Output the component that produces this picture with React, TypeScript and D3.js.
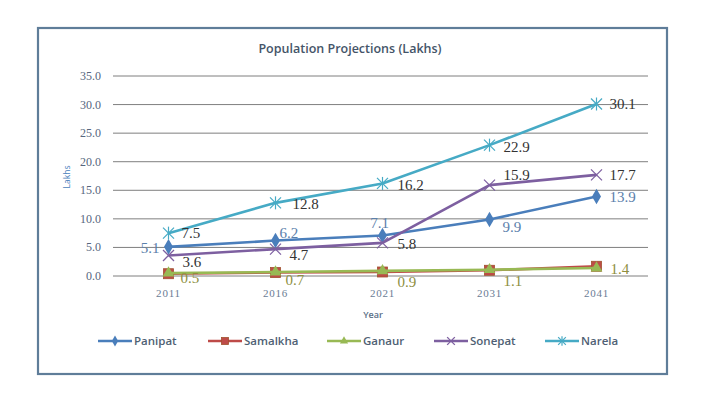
import React from "react";
import * as d3 from "d3";

const years = ["2011", "2016", "2021", "2031", "2041"];
const panipat = [5.1, 6.2, 7.1, 9.9, 13.9];
const samalkha = [0.4, 0.6, 0.7, 1.0, 1.7];
const ganaur = [0.5, 0.7, 0.9, 1.1, 1.4];
const sonepat = [3.6, 4.7, 5.8, 15.9, 17.7];
const narela = [7.5, 12.8, 16.2, 22.9, 30.1];
const yTicks = [0, 5, 10, 15, 20, 25, 30, 35];

type Lbl = { dx: number; dy: number; anchor: string };
const R: Lbl = { dx: 13, dy: 0, anchor: "start" };

const series = [
  { name: "Panipat", values: panipat, color: "#4a7ebb", marker: "diamond", labelColor: "#5b80ab",
    labels: [{ dx: -9, dy: 1, anchor: "end" }, { dx: 4, dy: -8, anchor: "start" }, { dx: -3, dy: -12, anchor: "middle" }, { dx: 13, dy: 8, anchor: "start" }, R] as Lbl[] },
  { name: "Samalkha", values: samalkha, color: "#be4b48", marker: "square", labelColor: "none", labels: null },
  { name: "Ganaur", values: ganaur, color: "#98b954", marker: "triangle", labelColor: "#8e8f3f",
    labels: [{ dx: 12, dy: 5, anchor: "start" }, { dx: 10, dy: 8, anchor: "start" }, { dx: 15, dy: 11, anchor: "start" }, { dx: 14, dy: 11, anchor: "start" }, { dx: 14, dy: 1, anchor: "start" }] as Lbl[] },
  { name: "Sonepat", values: sonepat, color: "#7d5fa0", marker: "x", labelColor: "#333333",
    labels: [{ dx: 14, dy: 7, anchor: "start" }, { dx: 14, dy: 6, anchor: "start" }, { dx: 15, dy: 1, anchor: "start" }, { dx: 14, dy: -10, anchor: "start" }, R] as Lbl[] },
  { name: "Narela", values: narela, color: "#46aac5", marker: "star", labelColor: "#333333",
    labels: [R, { dx: 17, dy: 1, anchor: "start" }, { dx: 15, dy: 2, anchor: "start" }, { dx: 14, dy: 2, anchor: "start" }, R] as Lbl[] },
];

const plot = { left: 113, right: 648, top: 76, bottom: 276 };

function Marker({ type, x, y, color, k = 1 }: { type: string; x: number; y: number; color: string; k?: number }) {
  if (type === "diamond") {
    return <path d={d3.symbol(d3.symbolDiamond, 70 * k * k)()!} transform={`translate(${x},${y})`} fill={color} />;
  }
  if (type === "square") {
    const h = 5 * k;
    return <rect x={x - h} y={y - h} width={2 * h} height={2 * h} fill={color} stroke="#a0522d" strokeWidth={0.8} />;
  }
  if (type === "triangle") {
    return <path d={d3.symbol(d3.symbolTriangle, 60 * k * k)()!} transform={`translate(${x},${y})`} fill={color} />;
  }
  const s = 5.5 * k;
  if (type === "x") {
    return (
      <g stroke={color} strokeWidth={1.3}>
        <line x1={x - s} y1={y - s} x2={x + s} y2={y + s} />
        <line x1={x - s} y1={y + s} x2={x + s} y2={y - s} />
      </g>
    );
  }
  return (
    <g stroke={color} strokeWidth={1.2}>
      <line x1={x - s} y1={y - s} x2={x + s} y2={y + s} />
      <line x1={x - s} y1={y + s} x2={x + s} y2={y - s} />
      <line x1={x} y1={y - s - 1} x2={x} y2={y + s + 1} />
    </g>
  );
}

export default function App() {
  const x = d3.scaleBand().domain(years).range([plot.left, plot.right]);
  const cx = (yr: string) => (x(yr) as number) + x.bandwidth() / 2 + 2;
  const y = d3.scaleLinear().domain([0, 35]).range([plot.bottom, plot.top]);
  const line = d3.line<number>().x((_, i) => cx(years[i])).y((d) => y(d));

  const legendX = [98, 208, 327, 434, 545];

  return (
    <svg width={719} height={409} style={{ position: "absolute", left: 0, top: 0, background: "#fff" }}>
      <rect x={38} y={28} width={629} height={346} fill="#fff" stroke="#5f7d99" strokeWidth={2.2} />
      <text x={350} y={53} textAnchor="middle" fontFamily="'Open Sans', sans-serif" fontWeight={600} fontSize={12.5} fill="#445468">
        Population Projections (Lakhs)
      </text>
      {yTicks.map((t) => (
        <g key={t}>
          <line x1={plot.left} x2={plot.right} y1={y(t)} y2={y(t)} stroke="#7f7f7f" strokeWidth={1} />
          <text x={101} y={y(t) + 4} textAnchor="end" fontFamily="'Liberation Serif', serif" fontSize={12} fill="#56667e">
            {t.toFixed(1)}
          </text>
        </g>
      ))}
      {years.map((yr) => (
        <text key={yr} x={cx(yr)} y={297} textAnchor="middle" fontFamily="'Liberation Serif', serif" fontSize={11} letterSpacing={0.8} fill="#6a7c94">
          {yr}
        </text>
      ))}
      <text x={373} y={318} textAnchor="middle" fontFamily="'Open Sans', sans-serif" fontWeight={600} fontSize={9} fill="#5a6e86">
        Year
      </text>
      <text transform="translate(70,177) rotate(-90)" textAnchor="middle" fontFamily="'Open Sans', sans-serif" fontSize={8.5} fill="#4a7ebb">
        Lakhs
      </text>
      {series.map((s) => (
        <g key={s.name}>
          <path d={line(s.values)!} fill="none" stroke={s.color} strokeWidth={2.6} strokeLinejoin="round" />
          {s.values.map((v, i) => (
            <Marker key={i} type={s.marker} x={cx(years[i])} y={y(v)} color={s.color} />
          ))}
        </g>
      ))}
      {series.map((s) =>
        s.labels
          ? s.values.map((v, i) => (
              <text
                key={s.name + i}
                x={cx(years[i]) + s.labels![i].dx}
                y={y(v) + s.labels![i].dy + 5}
                textAnchor={s.labels![i].anchor}
                fontFamily="'Liberation Serif', serif"
                fontSize={15}
                fill={s.labelColor}
              >
                {v.toFixed(1)}
              </text>
            ))
          : null
      )}
      {series.map((s, i) => {
        const lx = legendX[i];
        return (
          <g key={s.name}>
            <line x1={lx} x2={lx + 34} y1={341} y2={341} stroke={s.color} strokeWidth={2.6} />
            <Marker type={s.marker} x={lx + 17} y={341} color={s.color} k={0.7} />
            <text x={lx + 36} y={345} fontFamily="'Open Sans', sans-serif" fontWeight={600} fontSize={11.5} fill="#4f5f74">
              {s.name}
            </text>
          </g>
        );
      })}
    </svg>
  );
}
